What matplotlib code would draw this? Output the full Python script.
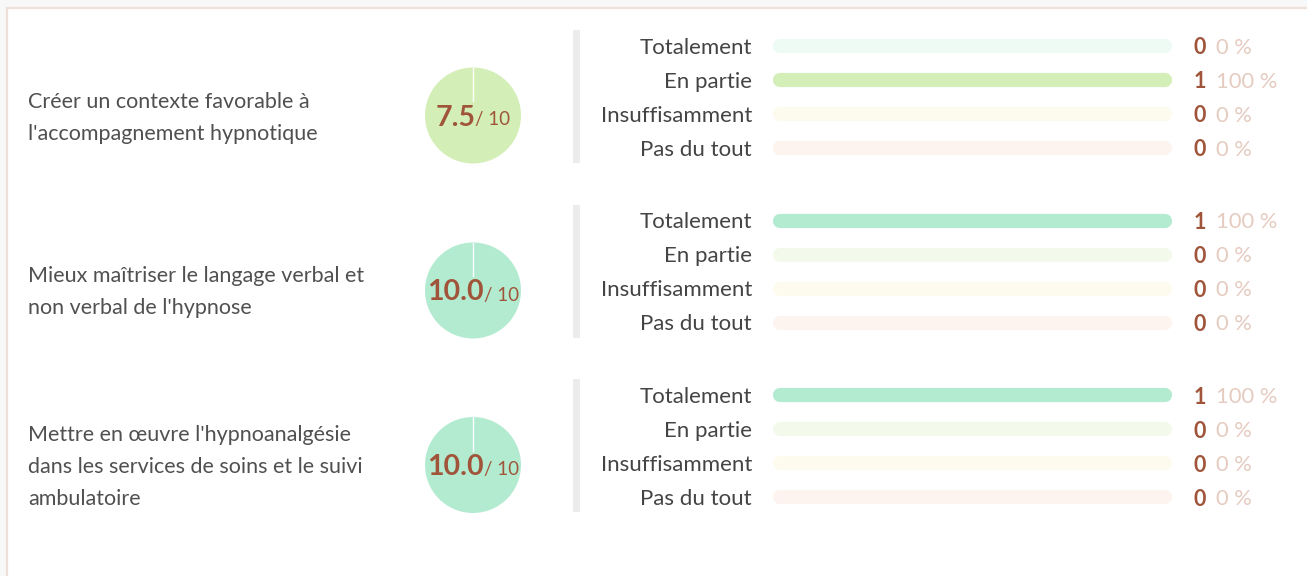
import matplotlib
matplotlib.use("Agg")
import matplotlib.pyplot as plt
from matplotlib.patches import Rectangle

plt.rcParams['font.family'] = ['Lato', 'DejaVu Sans']

# survey data
objectives = [
    ["Créer un contexte favorable à", "l'accompagnement hypnotique"],
    ["Mieux maîtriser le langage verbal et", "non verbal de l'hypnose"],
    ["Mettre en œuvre l'hypnoanalgésie", "dans les services de soins et le suivi", "ambulatoire"],
]
scores = [7.5, 10.0, 10.0]
levels = ["Totalement", "En partie", "Insuffisamment", "Pas du tout"]
counts = [
    [0, 1, 0, 0],
    [1, 0, 0, 0],
    [1, 0, 0, 0],
]

# colours per level (bar fill / empty track)
level_colors = ["#b3ebd1", "#d3efb7", "#f6ecc4", "#f6d9c8"]
track_colors = ["#eefaf4", "#f3faec", "#fdfaee", "#fdf4ef"]
num_color = "#a0553a"
pct_color = "#e5cbc0"
text_color = "#444444"

W, H = 1307, 576
fig = plt.figure(figsize=(W / 100, H / 100), dpi=100, facecolor="#f8f8f8")
main = fig.add_axes([0, 0, 1, 1])
main.set_xlim(0, W)
main.set_ylim(H, 0)
main.axis("off")

# card frame
main.add_patch(Rectangle((7, 8), W, H, facecolor="white", edgecolor="#efe0d8", lw=1.6))


def px_box(x0, y0, x1, y1):
    return [x0 / W, 1 - y1 / H, (x1 - x0) / W, (y1 - y0) / H]


row_step = 34
group_first = [46, 220.5, 395]
pie_centers = [115.5, 290.5, 465]
bar_x0, bar_x1 = 780, 1165
radius = 48

score_texts = []
for g, (lines, score, cnt) in enumerate(zip(objectives, scores, counts)):
    y0 = group_first[g]
    yc = pie_centers[g]
    total = sum(cnt)

    # objective label
    n = len(lines)
    for i, line in enumerate(lines):
        main.text(28, yc + 2 + (i - (n - 1) / 2) * 32, line, fontsize=15.5, color="#505050",
                  ha="left", va="center")

    # score pie
    lvl = 0 if score >= 9 else 1
    pax = fig.add_axes(px_box(473 - radius, yc - radius, 473 + radius, yc + radius))
    pax.pie([1], colors=[level_colors[lvl]], startangle=90, counterclock=False,
            wedgeprops=dict(edgecolor="none"))
    pax.plot([0, 0], [1, 0.3], color="white", lw=1.0)
    pax.set_xlim(-1, 1)
    pax.set_ylim(-1, 1)
    pax.set_aspect("equal")
    big = pax.text(473, yc + 10, f"{score:.1f}", fontsize=20.5, fontweight="bold",
                   color=num_color, ha="left", va="baseline", transform=main.transData,
                   clip_on=False)
    small = pax.text(473, yc + 10, "/ 10", fontsize=13.5, color=num_color,
                     ha="left", va="baseline", transform=main.transData, clip_on=False)
    score_texts.append((big, small))

    # separator
    main.add_patch(Rectangle((573, y0 - 16), 7, 3 * row_step + 31, facecolor="#ececec",
                             edgecolor="none"))

    # level bars
    bax = fig.add_axes(px_box(bar_x0, y0 - row_step / 2, bar_x1, y0 + 3.5 * row_step))
    bax.set_xlim(0, 1)
    bax.set_ylim(3.5, -0.5)
    bax.axis("off")
    for i, (lev, c) in enumerate(zip(levels, cnt)):
        frac = c / total if total else 0
        bax.plot([0, 1], [i, i], color=track_colors[i], lw=10.2,
                 solid_capstyle="round", clip_on=False)
        if frac > 0:
            bax.plot([0, frac], [i, i], color=level_colors[i], lw=10.2,
                     solid_capstyle="round", clip_on=False)
        y = y0 + i * row_step + 2
        main.text(752, y, lev, fontsize=16, color=text_color, ha="right", va="center")
        main.text(1206, y, f"{c}", fontsize=15.5, fontweight="bold", color=num_color,
                  ha="right", va="center")
        main.text(1216, y, f"{frac * 100:.0f} %", fontsize=15.8, color=pct_color,
                  ha="left", va="center")

# centre each score label (big number + "/ 10") on its pie
fig.canvas.draw()
r = fig.canvas.get_renderer()
for big, small in score_texts:
    wb = big.get_window_extent(r).width
    ws = small.get_window_extent(r).width
    x = 473 - (wb + ws) / 2
    big.set_x(x)
    small.set_x(x + wb)

fig.savefig("out.png", dpi=100, facecolor=fig.get_facecolor())
